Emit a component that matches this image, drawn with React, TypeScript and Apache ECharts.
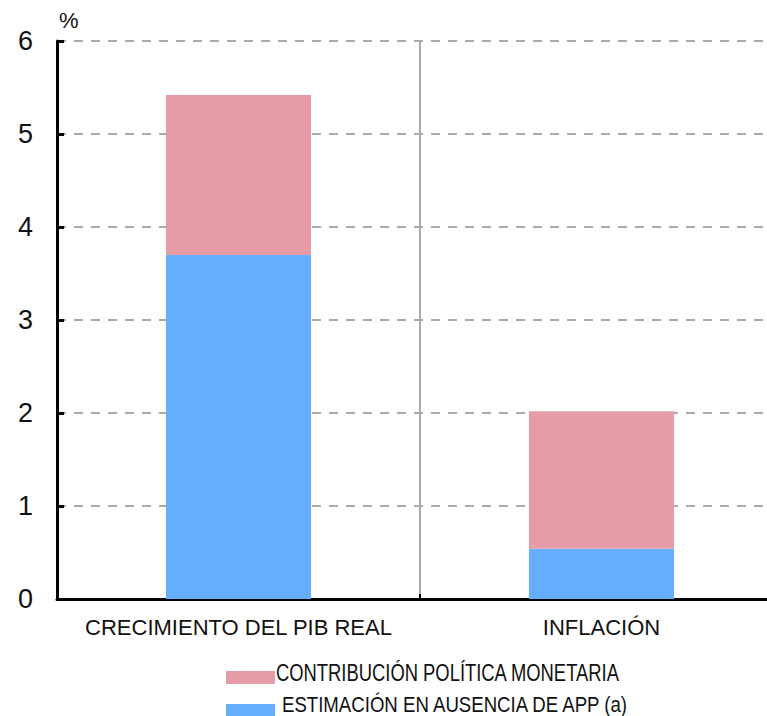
import React, { useEffect, useRef } from "react";
import * as echarts from "echarts";

const categories = ["CRECIMIENTO DEL PIB REAL", "INFLACIÓN"];
const estimacion = [3.7, 0.54];
const contribucion = [1.72, 1.48];
const seriesNames = ["CONTRIBUCIÓN POLÍTICA MONETARIA", "ESTIMACIÓN EN AUSENCIA DE APP (a)"];
const yTicks = [0, 1, 2, 3, 4, 5, 6];

export default function App() {
  const ref = useRef<HTMLDivElement>(null);
  useEffect(() => {
    if (!ref.current) return;
    const chart = echarts.init(ref.current, null, { renderer: "svg" });
    const legendText = (text: string, x: number, y: number, sx: number) => ({
      type: "text",
      x,
      y,
      scaleX: sx,
      style: { text, fontSize: 23, fill: "#111", fontFamily: "Liberation Sans", textVerticalAlign: "middle" },
    });
    chart.setOption({
      animation: false,
      textStyle: { fontFamily: "Liberation Sans" },
      grid: { left: 57, top: 41, width: 726, bottom: 117, containLabel: false, outerBoundsMode: "none" },
      graphic: [
        { type: "text", x: 59, y: 9, style: { text: "%", fontSize: 22, fill: "#111", fontFamily: "Liberation Sans" } },
        legendText(seriesNames[0], 276, 673, 0.8),
        legendText(seriesNames[1], 282, 704, 0.81),
      ],
      legend: [
        {
          left: 221,
          top: 666,
          itemWidth: 49,
          itemHeight: 13,
          icon: "rect",
          data: [seriesNames[0]],
          formatter: () => "",
          textStyle: { fontSize: 12 },
        },
        {
          left: 221,
          top: 699,
          itemWidth: 49,
          itemHeight: 13,
          icon: "rect",
          data: [seriesNames[1]],
          formatter: () => "",
          textStyle: { fontSize: 12 },
        },
      ],
      xAxis: {
        type: "category",
        data: categories,
        axisLine: { lineStyle: { color: "#000", width: 3 } },
        axisTick: { show: true, inside: true, length: 5, interval: 0, lineStyle: { color: "#000", width: 2 } },
        splitLine: { show: true, interval: 0, lineStyle: { color: "#aaa", width: 2, type: "solid" } },
        axisLabel: { fontSize: 22, color: "#111", margin: 17, interval: 0 },
      },
      yAxis: {
        type: "value",
        min: yTicks[0],
        max: yTicks[yTicks.length - 1],
        interval: 1,
        axisLine: { show: true, lineStyle: { color: "#000", width: 3 } },
        axisTick: { show: true, inside: true, length: 7, lineStyle: { color: "#000", width: 3 } },
        splitLine: { show: true, lineStyle: { color: "#aaa", width: 2, type: [9, 8] } },
        axisLabel: { fontSize: 27, color: "#111", margin: 24 },
      },
      series: [
        {
          name: seriesNames[1],
          type: "bar",
          stack: "total",
          barWidth: 145,
          data: estimacion,
          itemStyle: { color: "#66afff" },
        },
        {
          name: seriesNames[0],
          type: "bar",
          stack: "total",
          barWidth: 145,
          data: contribucion,
          itemStyle: { color: "#e59ca7" },
        },
      ],
    });
    return () => chart.dispose();
  }, []);
  return <div ref={ref} style={{ width: 767, height: 716, position: "absolute", left: 0, top: 0 }} />;
}
